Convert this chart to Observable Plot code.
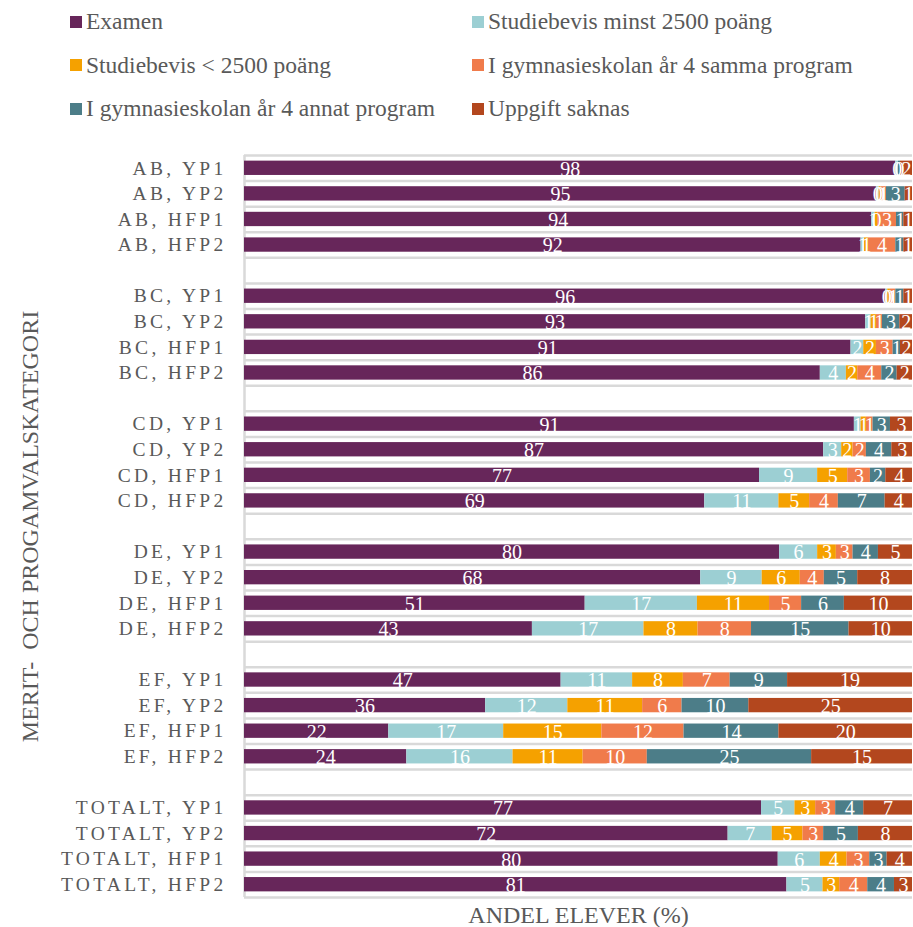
<!DOCTYPE html>
<html><head><meta charset="utf-8">
<script src="https://cdn.jsdelivr.net/npm/d3@7"></script>
<script src="https://cdn.jsdelivr.net/npm/@observablehq/plot@0.6"></script>
<style>
body{margin:0;background:#fff;font-family:"Liberation Serif","Times New Roman",serif;}
#legend{display:grid;grid-template-columns:402px auto;grid-auto-rows:43.5px;padding-left:70px;height:140px;align-items:center;box-sizing:border-box;}
.item{display:flex;align-items:center;font-size:23.5px;color:#595959;white-space:nowrap;font-family:"Liberation Serif","Times New Roman",serif;}
.sw{width:12px;height:12px;margin-right:4px;flex:none;}
#chart g[aria-label="y-axis tick label"] text{letter-spacing:3.3px;}
</style></head><body>
<div id="legend"></div>
<div id="chart"></div>
<script>
const seriesNames = ["Examen","Studiebevis minst 2500 poäng","Studiebevis < 2500 poäng","I gymnasieskolan år 4 samma program","I gymnasieskolan år 4 annat program","Uppgift saknas"];
const colors = ["#67265a","#9ccfd3","#f5a100","#f07b4b","#4c7d88","#b3471e"];
const groups = ["AB","BC","CD","DE","EF","TOTALT"];
const programs = ["YP1","YP2","HFP1","HFP2"];

const examen = [97.5,94.6,93.9,92.3, 96.0,93.0,90.8,86.2, 91.3,86.7,77.1,68.9, 80.1,68.3,51.0,43.1, 47.4,36.1,21.6,24.3, 77.4,72.4,79.9,81.2];
const studiebevis2500 = [0.4,0.4,0.5,0.5, 0.3,0.8,1.9,3.9, 1.0,2.7,8.7,11.1, 5.7,9.2,16.8,16.7, 10.7,12.3,17.2,15.9, 5.0,6.6,6.3,5.4];
const studiebevisUnder = [0,0.3,0.4,0.6, 0.4,0.8,1.9,1.7, 0.8,1.7,4.5,4.6, 2.8,5.7,10.8,8.1, 7.6,11.2,14.7,10.5, 3.1,4.6,4.0,2.5];
const sammaProgram = [0,0.8,2.8,4.1, 0.8,0.9,2.5,3.6, 1.0,2.0,3.4,4.3, 2.5,3.6,4.8,8.0, 7.0,5.9,12.3,9.6, 3.0,3.1,3.4,4.2];
const annatProgram = [0.3,2.8,1.1,1.2, 1.2,2.6,1.1,2.3, 2.6,3.8,2.3,7.0, 3.8,5.0,6.4,14.6, 8.6,10.0,14.2,24.6, 4.2,5.2,2.6,4.0];
const saknas = [1.8,1.1,1.3,1.3, 1.3,1.9,1.8,2.3, 3.3,3.1,4.0,4.1, 5.1,8.2,10.2,9.5, 18.7,24.5,20.0,15.1, 7.3,8.1,3.8,2.7];

const yTitle = "MERIT-\u00a0 OCH PROGAMVALSKATEGORI";
const xTitle = "ANDEL ELEVER (%)";

const allSeries = [examen, studiebevis2500, studiebevisUnder, sammaProgram, annatProgram, saknas];
const serif = "'Liberation Serif', 'Times New Roman', serif";

// legend
const legend = d3.select("#legend");
seriesNames.forEach((s, k) => {
  const it = legend.append("div").attr("class", "item");
  it.append("div").attr("class", "sw").style("background", colors[k]);
  it.append("span").text(s);
});

// rows
const rows = [];
groups.forEach((g, gi) => programs.forEach((p, pi) => {
  rows.push({label: `${g}, ${p}`, i: gi * (programs.length + 1) + pi, r: gi * programs.length + pi});
}));
const nSlots = groups.length * (programs.length + 1) - 1;
const labelOf = new Map(rows.map(d => [d.i, d.label]));

const segments = [];
rows.forEach(row => {
  let acc = 0;
  allSeries.forEach((arr, k) => {
    const v = arr[row.r];
    segments.push({i: row.i, series: seriesNames[k], value: v, x1: acc, x2: acc + v});
    acc += v;
  });
});

const boundaries = d3.range(0, nSlots + 1).map(k => k - 0.5);

const plot = Plot.plot({
  width: 913, height: 787,
  marginTop: 15, marginBottom: 30, marginLeft: 244, marginRight: 1,
  x: {domain: [0, 100], axis: null},
  y: {domain: [-0.5, nSlots - 0.5], reverse: true, axis: null},
  color: {domain: seriesNames, range: colors},
  style: {fontFamily: serif, background: "white"},
  marks: [
    Plot.ruleY(boundaries, {stroke: "#d9d9d9", strokeWidth: 2.5}),
    Plot.ruleX([0], {stroke: "#d9d9d9", strokeWidth: 2.5}),
    Plot.rectX(segments, {x1: "x1", x2: "x2", y1: d => d.i - 0.28, y2: d => d.i + 0.28, fill: "series"}),
    Plot.text(segments.filter(d => d.value > 0), {x: d => (d.x1 + d.x2) / 2, y: "i", text: d => Math.round(d.value), fill: "white", fontSize: 20, dy: 1, fontFamily: serif}),
    Plot.axisY({ticks: rows.map(d => d.i), tickFormat: i => labelOf.get(i), tickSize: 0, tickPadding: 18, fontSize: 19.5, color: "#595959", label: null, fontFamily: serif}),
    Plot.text([yTitle], {frameAnchor: "left", textAnchor: "middle", lineAnchor: "middle", dx: -214, rotate: -90, fontSize: 24, fill: "#595959", fontFamily: serif}),
    Plot.text([xTitle], {frameAnchor: "bottom", textAnchor: "middle", lineAnchor: "middle", dy: 18, fontSize: 24, fill: "#595959", fontFamily: serif})
  ]
});
document.getElementById("chart").appendChild(plot);
</script>
</body></html>
